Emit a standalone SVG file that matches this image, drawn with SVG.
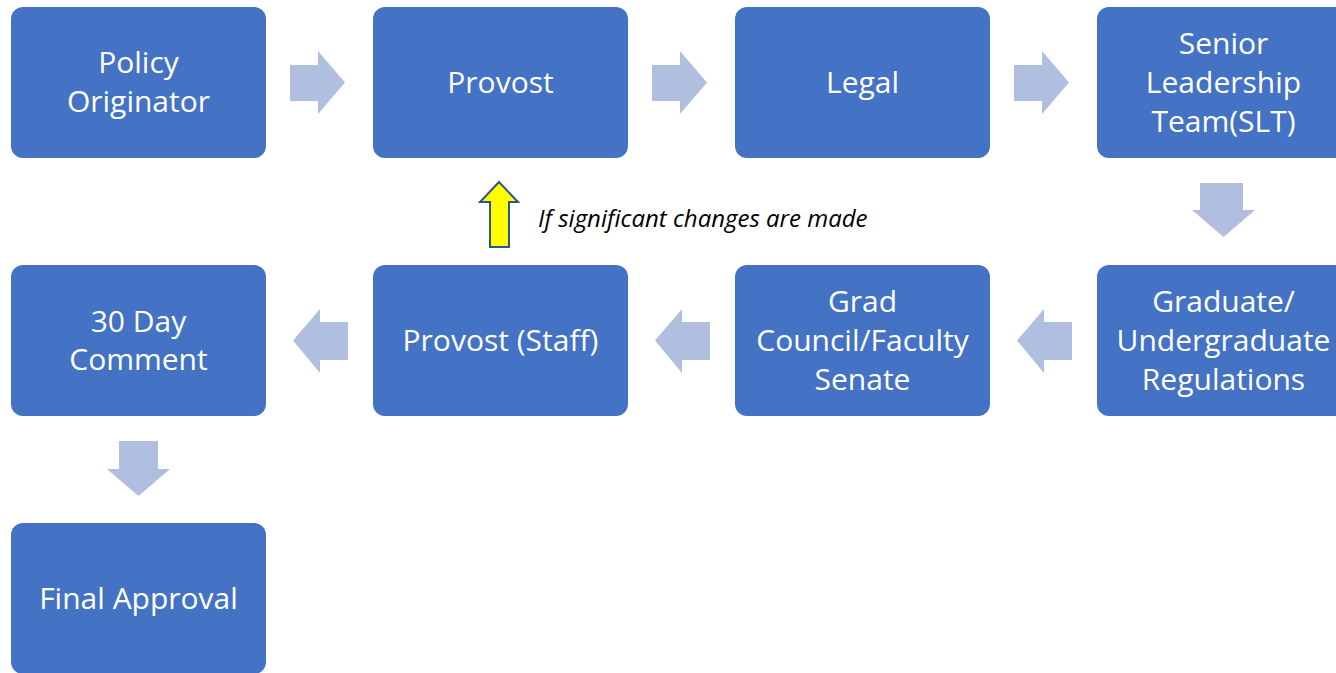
<svg xmlns="http://www.w3.org/2000/svg" width="1336" height="673" viewBox="0 0 1336 673">
<style>
.box{fill:#4472C4}
.lbl{fill:#FFFFFF;font-family:"Open Sans","Noto Sans",sans-serif;font-size:30px;text-anchor:middle}
.arr{fill:#B0BEDF}
.note{fill:#000000;font-family:"Open Sans","Noto Sans",sans-serif;font-size:24px;font-style:italic}
</style>
<rect width="1336" height="673" fill="#FFFFFF"/>
<g id="connectors">
<polygon class="arr" points="290,65 318,65 318,51 345,82.5 318,114 318,101 290,101"/>
<polygon class="arr" points="652,65 680,65 680,51 707,82.5 680,114 680,101 652,101"/>
<polygon class="arr" points="1014,65 1042,65 1042,51 1069,82.5 1042,114 1042,101 1014,101"/>
<polygon class="arr" points="1200,183 1243,183 1243,210 1255,210 1223.5,237 1192,210 1200,210"/>
<polygon class="arr" points="1072,322 1044,322 1044,309 1017,340.5 1044,373 1044,360 1072,360"/>
<polygon class="arr" points="710,322 682,322 682,309 655,340.5 682,373 682,360 710,360"/>
<polygon class="arr" points="348,322 320,322 320,309 293,340.5 320,373 320,360 348,360"/>
<polygon class="arr" points="119,441 158,441 158,469 170,469 138.5,496 107,469 119,469"/>
<polygon points="490,247 509,247 509,202 518,202 499,182 480,202 490,202" fill="#FFFF00" stroke="#2F528F" stroke-width="2" stroke-linejoin="miter"/>
<text class="note" x="538" y="227">If significant changes are made</text>
</g>
<g id="policy-originator">
<rect class="box" x="11" y="7" width="255" height="151" rx="12"/>
<text class="lbl" x="138.5" y="73">Policy</text>
<text class="lbl" x="138.5" y="112">Originator</text>
</g>
<g id="provost">
<rect class="box" x="373" y="7" width="255" height="151" rx="12"/>
<text class="lbl" x="500.5" y="92.5">Provost</text>
</g>
<g id="legal">
<rect class="box" x="735" y="7" width="255" height="151" rx="12"/>
<text class="lbl" x="862.5" y="92.5">Legal</text>
</g>
<g id="slt">
<rect class="box" x="1097" y="7" width="255" height="151" rx="12"/>
<text class="lbl" x="1223.5" y="54">Senior</text>
<text class="lbl" x="1223.5" y="93">Leadership</text>
<text class="lbl" x="1223.5" y="132">Team(SLT)</text>
</g>
<g id="regulations">
<rect class="box" x="1097" y="265" width="255" height="151" rx="12"/>
<text class="lbl" x="1223.5" y="312">Graduate/</text>
<text class="lbl" x="1223.5" y="351">Undergraduate</text>
<text class="lbl" x="1223.5" y="390">Regulations</text>
</g>
<g id="grad-council">
<rect class="box" x="735" y="265" width="255" height="151" rx="12"/>
<text class="lbl" x="862.5" y="312">Grad</text>
<text class="lbl" x="862.5" y="351">Council/Faculty</text>
<text class="lbl" x="862.5" y="390">Senate</text>
</g>
<g id="provost-staff">
<rect class="box" x="373" y="265" width="255" height="151" rx="12"/>
<text class="lbl" x="500.5" y="351">Provost (Staff)</text>
</g>
<g id="comment">
<rect class="box" x="11" y="265" width="255" height="151" rx="12"/>
<text class="lbl" x="138.5" y="332">30 Day</text>
<text class="lbl" x="138.5" y="370">Comment</text>
</g>
<g id="final-approval">
<rect class="box" x="11" y="523" width="255" height="151" rx="12"/>
<text class="lbl" x="138.5" y="609">Final Approval</text>
</g>
</svg>
